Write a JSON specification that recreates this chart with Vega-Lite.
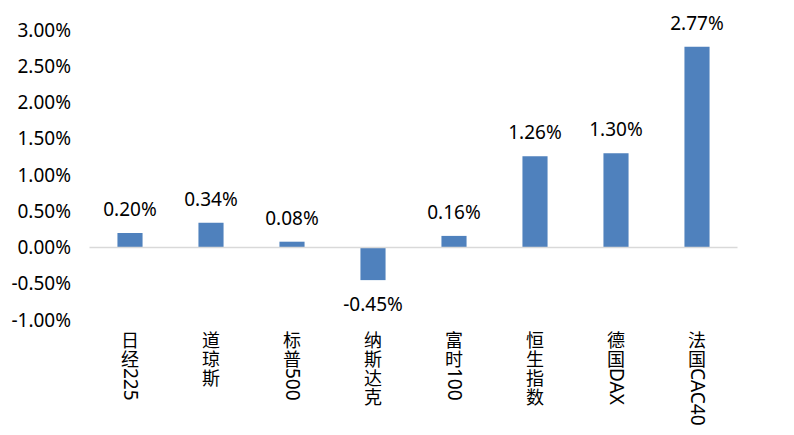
{
  "$schema": "https://vega.github.io/schema/vega-lite/v6.json",
  "width": 648,
  "height": 290,
  "autosize": {"type": "none"},
  "padding": {"left": 89.5, "top": 30, "right": 56.5, "bottom": 115},
  "background": "white",
  "config": {
    "view": {"stroke": null},
    "font": "Noto Sans",
    "axis": {"labelOverlap": false},
    "locale": {"number": {"decimal": ".", "thousands": ",", "grouping": [3], "currency": ["$", ""], "minus": "-"}}
  },
  "data": {
    "values": [
      {"name": "日经225", "en": "225", "value": 0.0020},
      {"name": "道琼斯", "en": "", "value": 0.0034},
      {"name": "标普500", "en": "500", "value": 0.0008},
      {"name": "纳斯达克", "en": "", "value": -0.0045},
      {"name": "富时100", "en": "100", "value": 0.0016},
      {"name": "恒生指数", "en": "", "value": 0.0126},
      {"name": "德国DAX", "en": "DAX", "value": 0.0130},
      {"name": "法国CAC40", "en": "CAC40", "value": 0.0277}
    ]
  },
  "encoding": {
    "x": {
      "field": "name",
      "type": "nominal",
      "sort": null,
      "scale": {"paddingInner": 0.69, "paddingOuter": 0.345},
      "axis": {
        "title": null,
        "domain": false,
        "ticks": false,
        "labelAngle": 0,
        "labelFontSize": 18,
        "labelFont": "Noto Sans CJK SC",
        "labelColor": "black",
        "labelLineHeight": 19,
        "labelPadding": 12,
        "labelBaseline": "top",
        "labelOverlap": false,
        "labelExpr": "split(replace(datum.label, /[A-Za-z0-9]+/, ''), '')"
      }
    },
    "y": {
      "field": "value",
      "type": "quantitative",
      "scale": {"domain": [-0.01, 0.03], "nice": false, "zero": false},
      "axis": {
        "title": null,
        "values": [-0.01, -0.005, 0, 0.005, 0.01, 0.015, 0.02, 0.025, 0.03],
        "tickCount": 9,
        "format": ".2%",
        "domain": false,
        "ticks": false,
        "grid": false,
        "labelOverlap": false,
        "labelPadding": 19,
        "labelFontSize": 19,
        "labelFont": "Noto Sans",
        "labelColor": "black"
      }
    }
  },
  "layer": [
    {
      "mark": {"type": "bar", "color": "#4F81BD"}
    },
    {
      "data": {"values": [{"z": 0}]},
      "mark": {"type": "rule", "color": "#d9d9d9", "strokeWidth": 1.3},
      "encoding": {"x": null, "y": {"field": "z", "type": "quantitative"}}
    },
    {
      "transform": [{"filter": "datum.value >= 0"}],
      "mark": {"type": "text", "baseline": "middle", "dy": -23, "fontSize": 19, "font": "Noto Sans", "color": "black"},
      "encoding": {
        "text": {"field": "value", "type": "quantitative", "format": ".2%"}
      }
    },
    {
      "transform": [{"filter": "datum.value < 0"}],
      "mark": {"type": "text", "baseline": "middle", "dy": 25, "fontSize": 19, "font": "Noto Sans", "color": "black"},
      "encoding": {
        "text": {"field": "value", "type": "quantitative", "format": ".2%"}
      }
    },
    {
      "transform": [{"filter": "datum.en != ''"}],
      "mark": {"type": "text", "angle": 90, "align": "left", "baseline": "middle", "dx": 48, "fontSize": 19, "font": "Noto Sans", "color": "black"},
      "encoding": {
        "y": {"datum": -0.01, "type": "quantitative"},
        "text": {"field": "en", "type": "nominal"}
      }
    }
  ]
}
